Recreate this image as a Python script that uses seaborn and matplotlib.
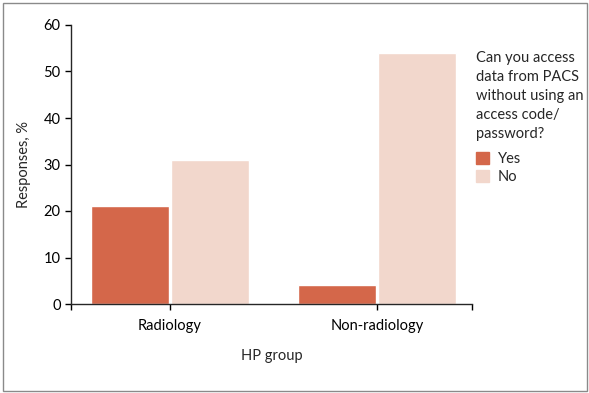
import pandas as pd
import seaborn as sns
import matplotlib.pyplot as plt
from matplotlib.patches import Rectangle, Patch

groups = ['Radiology', 'Radiology', 'Non-radiology', 'Non-radiology']
answers = ['Yes', 'No', 'Yes', 'No']
percent = [21, 31, 4, 54]

YES_COLOR = '#D4674A'
NO_COLOR = '#F2D7CC'
FS = 10.5


def main():
    df = pd.DataFrame({'group': groups, 'answer': answers, 'percent': percent})

    sns.set_style('ticks')
    plt.rcParams['font.family'] = ['Lato', 'DejaVu Sans']

    fig = plt.figure(figsize=(5.89, 3.93), dpi=100)
    ax = fig.add_axes([71 / 589, 1 - 304 / 393, 401 / 589, 279 / 393])

    sns.barplot(
        data=df, x='group', y='percent', hue='answer',
        palette={'Yes': YES_COLOR, 'No': NO_COLOR},
        width=0.775, gap=0.03, saturation=1, legend=False, ax=ax
    )

    ax.set_ylim(0, 60)
    ax.set_yticks(range(0, 61, 10))
    ax.set_xlim(-0.478, 1.46)
    ax.set_xticks([-0.478, 1.46], minor=True)
    ax.tick_params(axis='both', which='both', length=4, width=1, colors='black',
                   labelsize=FS, direction='out')
    ax.tick_params(axis='x', pad=7)
    sns.despine(ax=ax)
    ax.spines['left'].set_linewidth(1)
    ax.spines['bottom'].set_linewidth(1)

    ax.set_xlabel('HP group', fontsize=FS, labelpad=11)
    ax.set_ylabel('Responses, %', fontsize=FS, labelpad=9)

    handles = [Patch(color=YES_COLOR, label='Yes'), Patch(color=NO_COLOR, label='No')]
    leg = fig.legend(
        handles=handles,
        title='Can you access\ndata from PACS\nwithout using an\naccess code/\npassword?',
        loc='upper left', bbox_to_anchor=(470 / 589, 1 - 45 / 393),
        frameon=False, fontsize=FS, title_fontsize=FS,
        handlelength=0.9, handleheight=0.9, handletextpad=0.6,
        labelspacing=0.3, borderaxespad=0
    )
    leg._legend_box.align = 'left'
    leg.get_title().set_linespacing(1.45)
    leg._legend_box.sep = 8

    fig.patches.append(Rectangle(
        (2.5 / 589, 2.5 / 393), 584 / 589, 388 / 393, transform=fig.transFigure,
        fill=False, edgecolor='#8a8a8a', linewidth=1
    ))

    fig.savefig('out.png', dpi=100)
    plt.close()


main()
